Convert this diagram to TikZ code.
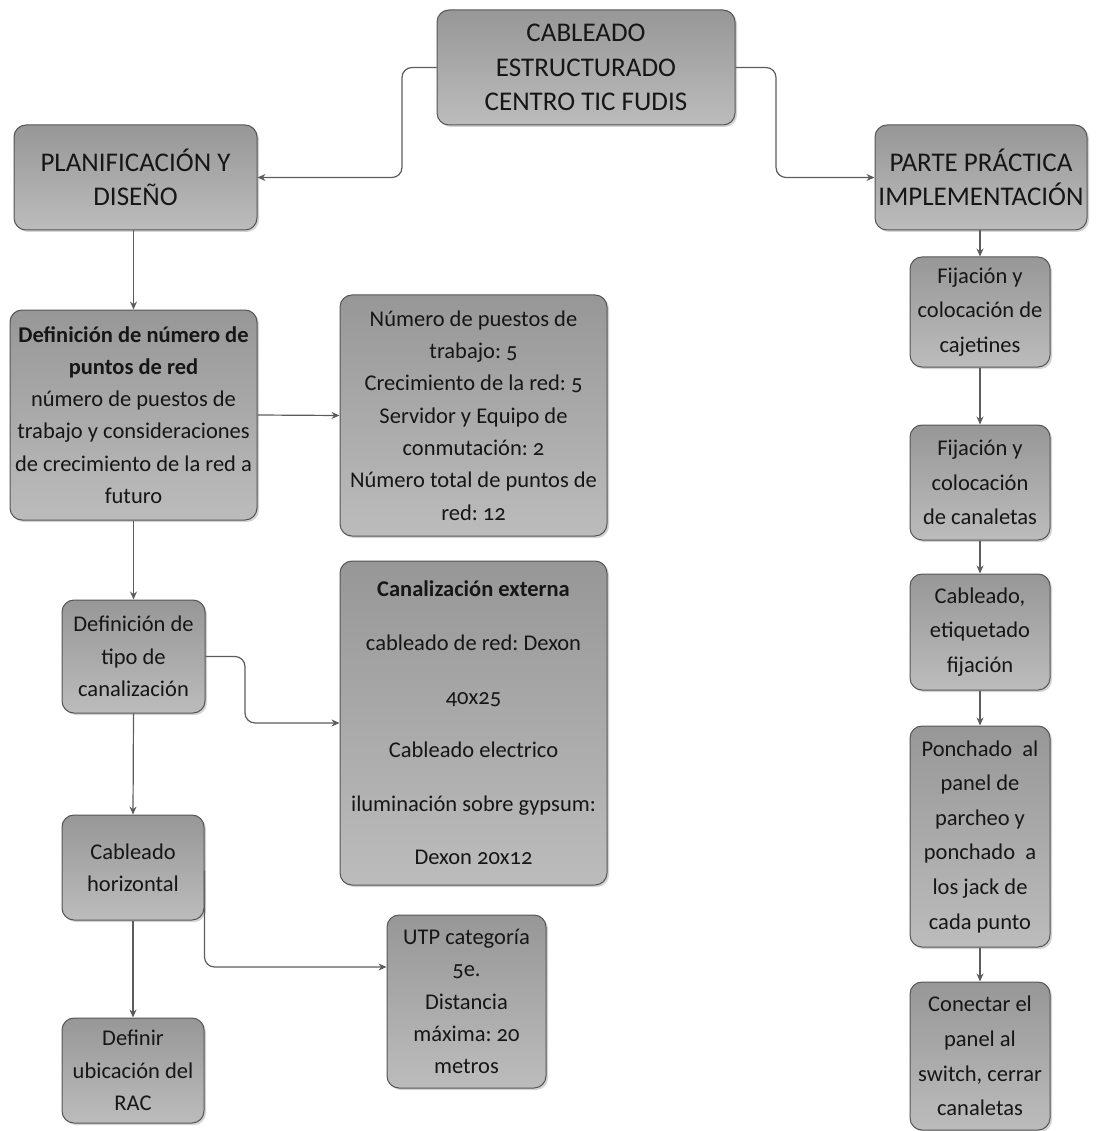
\documentclass[tikz,border=0pt]{standalone}
\usepackage{fontspec}
\setmainfont{Carlito}[Numbers=OldStyle]
\usetikzlibrary{arrows.meta,shadows}
\definecolor{boxtop}{HTML}{979797}
\definecolor{boxbot}{HTML}{BCBCBC}
\definecolor{boxline}{HTML}{555555}
\definecolor{linkc}{HTML}{5C5C5C}
\definecolor{txt}{HTML}{161616}
\tikzset{
  card/.style={draw=boxline, line width=1pt, rounded corners=12pt,
    top color=boxtop, bottom color=boxbot, text=txt, align=center,
    inner sep=1pt, drop shadow={shadow xshift=2pt, shadow yshift=-2pt, opacity=0.35}},
  head/.style={card, font=\fontsize{27}{34.5}\selectfont},
  body/.style={card, font=\fontsize{22.5}{32.3}\selectfont},
  tall/.style={card, font=\fontsize{22.5}{34.6}\selectfont},
  link/.style={draw=linkc, line width=1.2pt, rounded corners=10pt,
    -{Stealth[length=8pt,width=7pt]}}
}
\begin{document}
\frenchspacing
\begin{tikzpicture}[x=1pt,y=-1pt]
\useasboundingbox (0,0) rectangle (1095,1131);

% top level
\node[head, minimum width=298, minimum height=115] (root) at (586,67.5)
  {CABLEADO\\ESTRUCTURADO\\CENTRO TIC FUDIS};
\node[head, minimum width=243, minimum height=105] (plan) at (135.5,177.5)
  {PLANIFICACIÓN Y\\DISEÑO};
\node[head, minimum width=212, minimum height=105] (parte) at (981,177.5)
  {PARTE PRÁCTICA\\IMPLEMENTACIÓN};

% planning branch
\node[body, minimum width=247, minimum height=210] (defnum) at (133.5,415)
  {\textbf{Definición de número de}\\\textbf{puntos de red}\\número de puestos de\\trabajo y consideraciones\\de crecimiento de la red a\\futuro};
\node[body, minimum width=267, minimum height=241] (puestos) at (473.5,415.5)
  {Número de puestos de\\trabajo: 5\\Crecimiento de la red: 5\\Servidor y Equipo de\\conmutación: 2\\Número total de puntos de\\red: 12};
\node[body, minimum width=143, minimum height=113] (deftipo) at (133.5,656.5)
  {Definición de\\tipo de\\canalización};
\node[card, font=\fontsize{22.5}{53.6}\selectfont, minimum width=267, minimum height=324] (canal) at (473.5,723)
  {\textbf{Canalización externa}\\cableado de red: Dexon\\40x25\\Cableado electrico\\iluminación sobre gypsum:\\Dexon 20x12};
\node[body, minimum width=142, minimum height=105] (cabh) at (133,867.5)
  {Cableado\\horizontal};
\node[body, minimum width=159, minimum height=173] (utp) at (466.5,1001.5)
  {UTP categoría\\5e.\\Distancia\\máxima: 20\\metros};
\node[body, minimum width=142, minimum height=105] (rac) at (133,1070.5)
  {Definir\\ubicación del\\RAC};

% implementation branch
\node[tall, minimum width=140, minimum height=110] (fij1) at (980,312)
  {Fijación y\\colocación de\\cajetines};
\node[tall, minimum width=140, minimum height=115] (fij2) at (980,482.5)
  {Fijación y\\colocación\\de canaletas};
\node[tall, minimum width=140, minimum height=116] (cabe) at (980,632)
  {Cableado,\\etiquetado\\fijación};
\node[tall, minimum width=140, minimum height=221] (ponch) at (980,836.5)
  {Ponchado\ \ al\\panel de\\parcheo y\\ponchado\ \ a\\los jack de\\cada punto};
\node[tall, minimum width=140, minimum height=148] (conec) at (980,1056)
  {Conectar el\\panel al\\switch, cerrar\\canaletas};

% connectors
\draw[link] (root.west) -- (402,67.5) |- (plan.east);
\draw[link] (root.east) -- (776,67.5) |- (parte.west);
\draw[link] (plan.south -| defnum.north) -- (defnum.north);
\draw[link] (defnum.east) -- (puestos.west);
\draw[link] (defnum.south) -- (deftipo.north);
\draw[link] (deftipo.east) -- (245,656.5) |- (canal.west);
\draw[link] (deftipo.south) -- (cabh.north);
\draw[link] ([yshift=-3pt]cabh.east) |- ([yshift=34.5pt]utp.west);
\draw[link] (cabh.south) -- (rac.north);
\draw[link] (parte.south -| fij1.north) -- (fij1.north);
\draw[link] (fij1.south) -- (fij2.north);
\draw[link] (fij2.south) -- (cabe.north);
\draw[link] (cabe.south) -- (ponch.north);
\draw[link] (ponch.south) -- (conec.north);
\end{tikzpicture}
\end{document}
